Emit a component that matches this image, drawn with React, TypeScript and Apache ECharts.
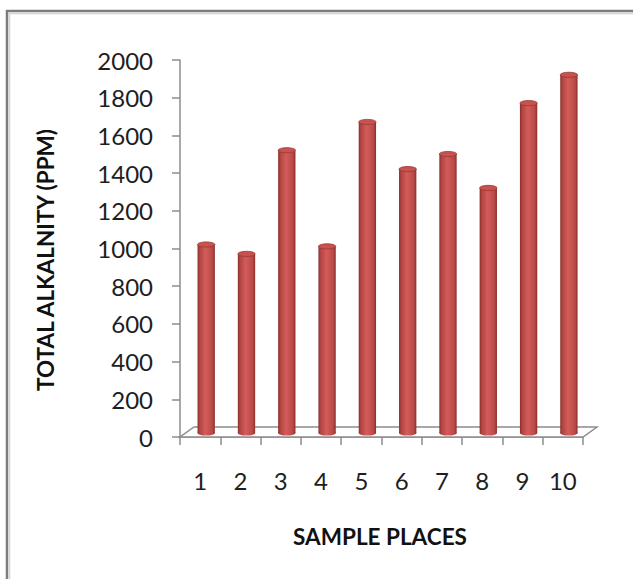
import React, { useEffect, useRef } from "react";
import * as echarts from "echarts";

const categories = ["1", "2", "3", "4", "5", "6", "7", "8", "9", "10"];
const alkalinity = [1000, 950, 1500, 990, 1650, 1400, 1480, 1300, 1750, 1900];
const yTitle = "TOTAL ALKALNITY (PPM)";
const xTitle = "SAMPLE PLACES";

const FONT = "Lato, 'Noto Sans', sans-serif";

export default function App() {
  const ref = useRef<HTMLDivElement>(null);
  useEffect(() => {
    if (!ref.current) return;
    const chart = echarts.init(ref.current, null, { renderer: "svg" });
    const bodyGrad = new echarts.graphic.LinearGradient(0, 0, 1, 0, [
      { offset: 0, color: "#8a2e2b" },
      { offset: 0.12, color: "#b04441" },
      { offset: 0.45, color: "#d35c59" },
      { offset: 0.85, color: "#b94a47" },
      { offset: 1, color: "#8a2e2b" },
    ]);
    const option: any = {
      animation: false,
      backgroundColor: "#ffffff",
      grid: { left: 180, top: 60, width: 403, height: 377, containLabel: false },
      xAxis: {
        type: "category",
        data: categories,
        boundaryGap: true,
        axisLine: { show: true, lineStyle: { color: "#8c8c8c", width: 1.5 } },
        axisTick: { show: true, length: 8, alignWithLabel: false, lineStyle: { color: "#8c8c8c", width: 1.5 } },
        axisLabel: { color: "#1e1e1e", fontSize: 24, fontFamily: FONT, margin: 31 },
        splitLine: { show: false },
      },
      yAxis: {
        type: "value",
        min: 0,
        max: 2000,
        interval: 200,
        axisLine: { show: true, lineStyle: { color: "#8c8c8c", width: 1.5 } },
        axisTick: { show: true, length: 8, lineStyle: { color: "#8c8c8c", width: 1.5 } },
        axisLabel: {
          color: "#1e1e1e",
          fontSize: 24,
          fontFamily: FONT,
          margin: 27,
          formatter: (v: number) => String(v),
        },
        splitLine: { show: false },
      },
      graphic: [
        {
          type: "rect",
          silent: true,
          shape: { x: 7, y: 11, width: 800, height: 800 },
          style: { fill: "none", stroke: "#7d7d7d", lineWidth: 2.5 },
        },
        {
          type: "rect",
          silent: true,
          shape: { x: 9.5, y: 13.5, width: 800, height: 800 },
          style: { fill: "none", stroke: "#d4d4d4", lineWidth: 1.5 },
        },
        {
          type: "text",
          x: 45,
          y: 260,
          rotation: Math.PI / 2,
          style: {
            text: yTitle,
            fontFamily: FONT,
            fontWeight: "bold",
            fontSize: 22.5,
            fill: "#111",
            textAlign: "center",
            textVerticalAlign: "middle",
          },
        },
        {
          type: "text",
          x: 380,
          y: 536,
          style: {
            text: xTitle,
            fontFamily: FONT,
            fontWeight: "bold",
            fontSize: 22.5,
            fill: "#111",
            textAlign: "center",
            textVerticalAlign: "middle",
          },
        },
      ],
      series: [
        {
          type: "custom",
          name: "floor",
          silent: true,
          z: 1,
          data: [[0, 0]],
          renderItem: (params: any, api: any) => {
            const p0 = api.coord([0, 0]);
            const band = api.size([1, 0])[0];
            const left = p0[0] - band / 2;
            const right = left + band * categories.length;
            const y = p0[1];
            const dx = 14;
            const dy = -10;
            return {
              type: "polygon",
              shape: {
                points: [
                  [left, y],
                  [right, y],
                  [right + dx, y + dy],
                  [left + dx, y + dy],
                ],
              },
              style: { fill: "#ffffff", stroke: "#8c8c8c", lineWidth: 1.5 },
            };
          },
        },
        {
          type: "custom",
          name: "Total alkalinity",
          z: 3,
          data: alkalinity.map((v, i) => [i, v]),
          renderItem: (params: any, api: any) => {
            const idx = api.value(0);
            const v = api.value(1);
            const base = api.coord([idx, 0]);
            const top = api.coord([idx, v]);
            const band = api.size([1, 0])[0];
            const w = band * 0.43;
            const cx = base[0] + band * 0.15;
            const dy = -4;
            const yb = base[1] + dy;
            const yt = top[1] + dy;
            const ry = 2.6;
            return {
              type: "group",
              children: [
                {
                  type: "ellipse",
                  shape: { cx, cy: yb, rx: w / 2, ry },
                  style: { fill: bodyGrad },
                },
                {
                  type: "rect",
                  shape: { x: cx - w / 2, y: yt, width: w, height: yb - yt },
                  style: { fill: bodyGrad },
                },
                {
                  type: "ellipse",
                  shape: { cx, cy: yt, rx: w / 2, ry },
                  style: { fill: "#c9514e", stroke: "#973734", lineWidth: 0.8 },
                },
              ],
            };
          },
        },
      ],
    };
    chart.setOption(option);
    return () => chart.dispose();
  }, []);
  return (
    <div
      ref={ref}
      style={{ position: "absolute", left: 0, top: 0, width: 633, height: 579, background: "#fff" }}
    />
  );
}
